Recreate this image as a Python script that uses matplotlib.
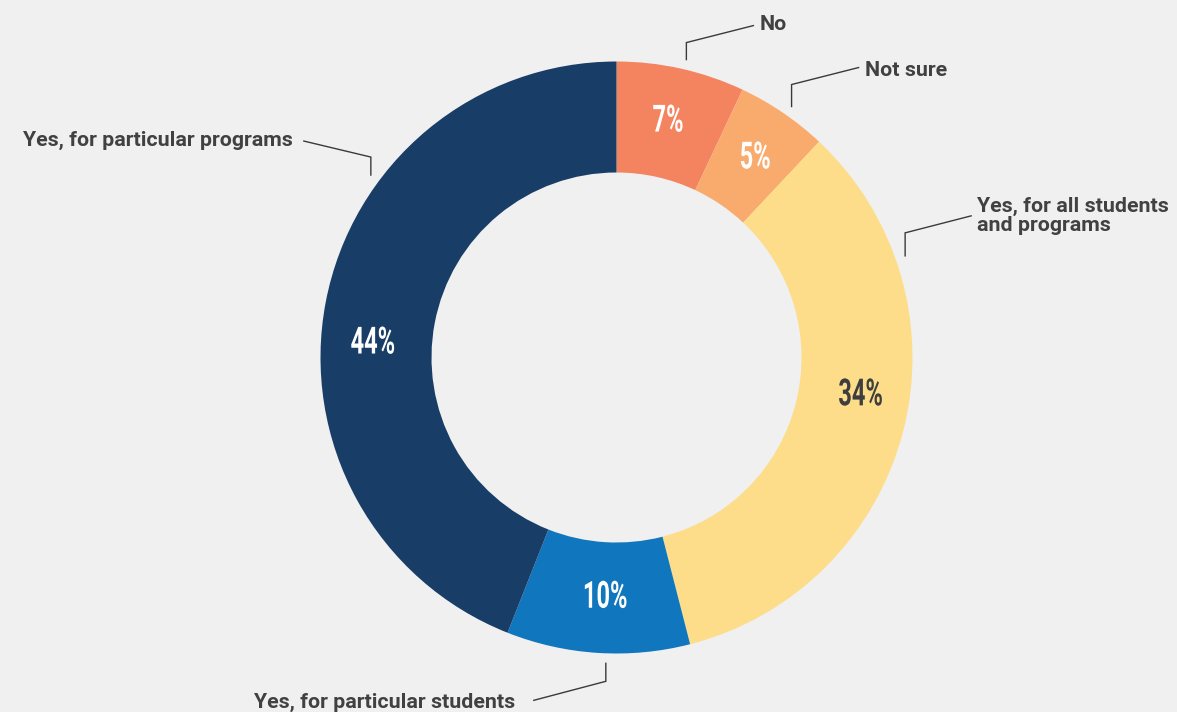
import matplotlib
matplotlib.use("Agg")
import matplotlib.pyplot as plt
import numpy as np
from matplotlib.patheffects import AbstractPathEffect
from matplotlib.transforms import Affine2D

categories = ["No", "Not sure", "Yes, for all students\nand programs",
              "Yes, for particular students", "Yes, for particular programs"]
values = [7, 5, 34, 10, 44]
pct_labels = ["7%", "5%", "34%", "10%", "44%"]
colors = ["#F4845F", "#F9AB6E", "#FDDD89", "#1076BD", "#183D66"]
pct_colors = ["white", "white", "#3E3E3E", "white", "white"]

W, H = 1177, 712
BG = "#F0F0F0"
FAM = ["Roboto", "DejaVu Sans"]


class Condense(AbstractPathEffect):
    """Horizontally condense glyphs about the text's anchor point."""

    def __init__(self, sx):
        super().__init__()
        self.sx = sx
        self.text = None

    def draw_path(self, renderer, gc, tpath, affine, rgbFace=None):
        x0 = self.text.get_transform().transform(self.text.get_position())[0]
        aff = affine + Affine2D().translate(-x0, 0).scale(self.sx, 1).translate(x0, 0)
        renderer.draw_path(gc, tpath, aff, rgbFace)


def ctext(ax, x, y, s, sx, **kw):
    pe = Condense(sx)
    t = ax.text(x, y, s, path_effects=[pe], **kw)
    pe.text = t
    return t


fig = plt.figure(figsize=(W / 100, H / 100), dpi=100, facecolor=BG)
ax = fig.add_axes([0, 0, 1, 1])
ax.set_facecolor(BG)

cx, cy = 616.5, H - 357.5
R_OUT, R_IN = 296, 185

ax.pie(values, colors=colors, startangle=90, counterclock=False,
       radius=R_OUT, center=(cx, cy),
       wedgeprops=dict(width=R_OUT - R_IN, linewidth=0))
ax.set_xlim(0, W)
ax.set_ylim(0, H)
ax.set_aspect("equal")
ax.axis("off")


def polar(angle_deg, r):
    a = np.deg2rad(angle_deg)
    return cx + r * np.sin(a), cy + r * np.cos(a)


# percentage labels (angle clockwise from top, radius)
pct_angle = [12.3, 34.8, 98.7, 182.7, 273.4]
pct_rad = [242, 243, 247, 240, 244]
for lab, ang, rr, c in zip(pct_labels, pct_angle, pct_rad, pct_colors):
    x, y = polar(ang, rr)
    ctext(ax, x, y, lab, 0.63, ha="center", va="center", color=c,
          fontsize=27, fontweight="bold", family=FAM)

# leader lines: anchor angle, vertical elbow (px, + = up), end offset
anchor_angle = [13.2, 34.9, 70.6, 182.0, 306.6]
elbow = [17, 22, 23, -18, 18]
end_dx = [67, 67, 66, -72, -67]
end_dy = [17, 17, 17, -19, 16]
for ang, el, dx, dy in zip(anchor_angle, elbow, end_dx, end_dy):
    x0, y0 = polar(ang, 306)
    x1, y1 = x0, y0 + el
    x2, y2 = x1 + dx, y1 + dy
    ax.plot([x0, x1, x2], [y0, y1, y2], color="#3A3A3A", lw=1.0,
            solid_joinstyle="miter")

# category labels
lab_x = [760, 865, 977, 515, 293]
lab_y = [30, 76, 213, 708, 146]
lab_ha = ["left", "left", "left", "right", "right"]
for txt, x, y, ha in zip(categories, lab_x, lab_y, lab_ha):
    if "\n" in txt:
        ax.text(x, H - 196.5, txt, ha=ha, va="top", color="#414141",
                fontsize=15.4, fontweight="bold", family=FAM, linespacing=1.03)
    else:
        ax.text(x, H - y, txt, ha=ha, va="baseline", color="#414141",
                fontsize=15.4, fontweight="bold", family=FAM)

fig.savefig("out.png", dpi=100, facecolor=BG)
